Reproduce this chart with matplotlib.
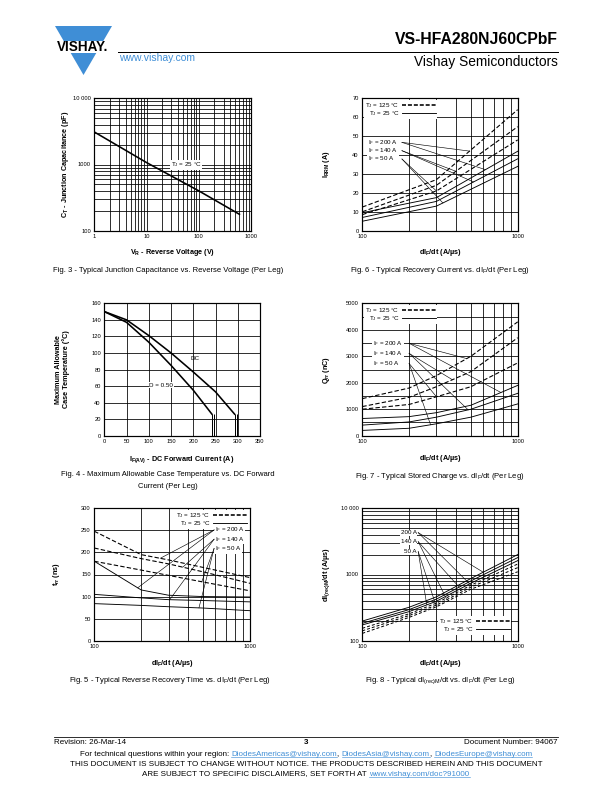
import numpy as np
import matplotlib
matplotlib.use('Agg')
import matplotlib.pyplot as plt
import matplotlib.transforms as mtransforms
from matplotlib.patches import Polygon, Rectangle
from matplotlib.lines import Line2D
from matplotlib.ticker import NullFormatter

plt.rcParams['font.family'] = ['Liberation Sans', 'DejaVu Sans']
plt.rcParams['mathtext.default'] = 'regular'

# Fig. 3 - junction capacitance
vr = [1, 10, 100, 600]
ct = [3100, 1070, 400, 177]

# Fig. 4 - case temperature vs. forward current
if_dc = [0, 50, 100, 150, 200, 250, 293]
tc_dc = [150, 140, 121, 100, 77, 53, 26]
if_d50 = [0, 50, 100, 150, 200, 242]
tc_d50 = [150, 137, 113, 85, 55, 26]
dc_edges = [293, 298]
d50_edges = [242, 247]

# Fig. 5 - trr
didt = [100, 200, 300, 500, 1000]
trr_125 = [[248, 195, 183, 166, 143],
           [210, 186, 174, 156, 130],
           [180, 160, 148, 133, 113]]
trr_25 = [[180, 115, 103, 100, 99],
          [105, 97, 93, 91, 88],
          [84, 80, 77, 74, 68]]

# Fig. 6 - Irrm
didt6 = [100, 300, 1000]
irrm_125 = [[12.5, 27, 64], [10, 24, 55], [8.5, 21, 48]]
irrm_25 = [[9.5, 17.5, 42], [7, 15.5, 38], [5, 13, 34]]

# Fig. 7 - Qrr
qrr_125 = [[1400, 1800, 2270, 3000, 4300],
           [1100, 1450, 1850, 2420, 3700],
           [1000, 1180, 1470, 1850, 2750]]
qrr_25 = [[650, 720, 870, 1150, 1900],
          [400, 520, 700, 1000, 1600],
          [200, 280, 450, 700, 1200]]

# Fig. 8 - dI(rec)M/dt
dirm_25 = [[198, 320, 460, 870, 2000],
           [183, 295, 425, 800, 1800],
           [173, 275, 395, 740, 1620]]
dirm_125 = [[154, 255, 370, 690, 1440],
            [141, 240, 345, 645, 1270],
            [129, 225, 325, 600, 1100]]

if_labels = ['200 A', '140 A', '50 A']

fig = plt.figure(figsize=(8.5, 11), dpi=72)
px = mtransforms.Affine2D().scale(1 / 612, -1 / 792).translate(0, 1) + fig.transFigure
BLUE = '#3f8ed6'
dash = (0, (4, 2))
FS = 6.2  # small text inside charts


def add_ax(box):
    x0, y0, x1, y1 = box
    ax = fig.add_axes([x0 / 612, 1 - y1 / 792, (x1 - x0) / 612, (y1 - y0) / 792])
    ax.tick_params(which='both', length=0, labelsize=5.8, pad=3.5)
    for s in ax.spines.values():
        s.set_linewidth(1.2)
    return ax


def labels(ax, box, xlabel, ylabel, xl_y, yl_x):
    x0, y0, x1, y1 = box
    ax.set_xlabel(xlabel, fontsize=7.3, fontweight='bold')
    ax.set_ylabel(ylabel, fontsize=7.3, fontweight='bold', linespacing=1.1)
    ax.xaxis.set_label_coords(0.5, -(xl_y - y1) / (y1 - y0))
    ax.yaxis.set_label_coords(-(x0 - yl_x) / (x1 - x0), 0.5)


def on_curve(xq, xs, ys, logy=False):
    lx = np.log10(xs)
    if logy:
        return 10 ** np.interp(np.log10(xq), lx, np.log10(ys))
    return np.interp(np.log10(xq), lx, ys)


def tj_legend(ax, **kw):
    h = [Line2D([], [], color='k', lw=1.6, ls=(0, (2.5, 1.2))),
         Line2D([], [], color='k', lw=0.9)]
    lg = ax.legend(h, ['T$_J$ = 125 °C', 'T$_J$ = 25 °C'], fontsize=FS,
                   markerfirst=False, handlelength=5.5, handletextpad=0.4,
                   labelspacing=-0.1, borderpad=0.15, borderaxespad=0.3,
                   fancybox=False, framealpha=1, facecolor='white',
                   edgecolor='none', **kw)
    lg.set_zorder(4)


wbox = dict(fc='white', ec='none', pad=0.6)

# ---------- Fig. 3 ----------
b3 = (94.3, 98.3, 251, 230.7)
ax = add_ax(b3)
ax.loglog(vr, ct, color='k', lw=1.6)
ax.set_xlim(1, 1000)
ax.set_ylim(100, 10000)
ax.grid(True, which='both', color='k', lw=0.8)
ax.set_xticks([1, 10, 100, 1000], ['1', '10', '100', '1000'])
ax.set_yticks([100, 1000, 10000], ['100', '1000', '10 000'])
ax.xaxis.set_minor_formatter(NullFormatter())
ax.yaxis.set_minor_formatter(NullFormatter())
ax.text(58, 990, 'T$_J$ = 25 °C', fontsize=FS, ha='center', va='center', bbox=wbox, zorder=5)
labels(ax, b3, 'V$_R$ - Reverse Voltage (V)', 'C$_T$ - Junction Capacitance (pF)', 247, 71)

# ---------- Fig. 6 ----------
b6 = (362.3, 98.3, 517.7, 230.7)
ax = add_ax(b6)
for ys in irrm_125:
    ax.plot(didt6, ys, color='k', lw=1.1, ls=dash)
for ys in irrm_25:
    ax.plot(didt6, ys, color='k', lw=0.9)
ax.set_xscale('log')
ax.set_xlim(100, 1000)
ax.set_ylim(0, 70)
ax.set_yticks(range(0, 71, 10))
ax.set_xticks([100, 1000], ['100', '1000'])
ax.xaxis.set_minor_formatter(NullFormatter())
ax.grid(True, which='both', axis='x', color='k', lw=0.8)
ax.grid(True, which='major', axis='y', color='k', lw=0.8)
tj_legend(ax, loc='upper left', bbox_to_anchor=(0.0, 1.0))
lab_y6 = [46.7, 42.3, 37.9]
tgt6 = [[(0, 490, True), (0, 620, False)],
        [(1, 400, True), (1, 520, False)],
        [(2, 300, True), (2, 330, False)]]
for i in range(3):
    ax.text(109, lab_y6[i], 'I$_F$ = ' + if_labels[i], fontsize=FS, va='center', bbox=wbox, zorder=5)
    for k, xq, hot in tgt6[i]:
        ys = irrm_125[k] if hot else irrm_25[k]
        ax.plot([180, xq], [lab_y6[i], on_curve(xq, didt6, ys)], color='k', lw=0.6, zorder=6)
labels(ax, b6, 'dI$_F$/dt (A/µs)', 'I$_{RRM}$ (A)', 247, 332)

# ---------- Fig. 4 ----------
b4 = (104.3, 303.3, 260, 435.7)
ax = add_ax(b4)
ax.plot(if_dc, tc_dc, color='k', lw=1.6)
ax.plot(if_d50, tc_d50, color='k', lw=1.6)
ax.vlines(dc_edges, 0, tc_dc[-1], color='k', lw=1.0)
ax.vlines(d50_edges, 0, tc_d50[-1], color='k', lw=1.0)
ax.set_xlim(0, 350)
ax.set_ylim(0, 160)
ax.set_xticks(range(0, 351, 50))
ax.set_yticks(range(0, 161, 20))
ax.grid(True, which='major', axis='both', color='k', lw=0.8)
ax.text(205, 93, 'DC', fontsize=FS, ha='center', va='center')
ax.text(128, 61, 'D = 0.50', fontsize=FS, ha='center', va='center', bbox=wbox, zorder=5)
labels(ax, b4, 'I$_{F(AV)}$ - DC Forward Current (A)', 'Maximum Allowable\nCase Temperature (°C)', 454, 70)

# ---------- Fig. 7 ----------
b7 = (362.3, 303.3, 517.7, 435.7)
ax = add_ax(b7)
for ys in qrr_125:
    ax.plot(didt, ys, color='k', lw=1.1, ls=dash)
for ys in qrr_25:
    ax.plot(didt, ys, color='k', lw=0.9)
ax.set_xscale('log')
ax.set_xlim(100, 1000)
ax.set_ylim(0, 5000)
ax.set_yticks(range(0, 5001, 1000))
ax.set_yticks(range(500, 5000, 1000), minor=True)
ax.set_xticks([100, 1000], ['100', '1000'])
ax.xaxis.set_minor_formatter(NullFormatter())
ax.yaxis.set_minor_formatter(NullFormatter())
ax.grid(True, which='both', color='k', lw=0.8)
tj_legend(ax, loc='upper left', bbox_to_anchor=(0.0, 1.0))
lab_y7 = [3490, 3110, 2730]
tgt7 = [[(0, 470, True), (0, 780, False)],
        [(1, 380, True), (1, 480, False)],
        [(2, 300, True), (2, 275, False)]]
for i in range(3):
    ax.text(117, lab_y7[i], 'I$_F$ = ' + if_labels[i], fontsize=FS, va='center', bbox=wbox, zorder=5)
    for k, xq, hot in tgt7[i]:
        ys = qrr_125[k] if hot else qrr_25[k]
        ax.plot([200, xq], [lab_y7[i], on_curve(xq, didt, ys)], color='k', lw=0.6, zorder=6)
labels(ax, b7, 'dI$_F$/dt (A/µs)', 'Q$_{rr}$ (nC)', 453, 332)

# ---------- Fig. 5 ----------
b5 = (94.3, 508.3, 250, 640.7)
ax = add_ax(b5)
for ys in trr_125:
    ax.plot(didt, ys, color='k', lw=1.1, ls=dash)
for ys in trr_25:
    ax.plot(didt, ys, color='k', lw=0.9)
ax.set_xscale('log')
ax.set_xlim(100, 1000)
ax.set_ylim(0, 300)
ax.set_yticks(range(0, 301, 50))
ax.set_xticks([100, 1000], ['100', '1000'])
ax.xaxis.set_minor_formatter(NullFormatter())
ax.grid(True, which='both', axis='x', color='k', lw=0.8)
ax.grid(True, which='major', axis='y', color='k', lw=0.8)
tj_legend(ax, loc='upper right', bbox_to_anchor=(1.0, 1.0))
lab_y5 = [251, 230, 209]
tgt5 = [[(0, 190, False), (0, 265, True)],
        [(1, 305, False), (1, 370, True)],
        [(2, 470, False), (2, 490, True)]]
for i in range(3):
    ax.text(592, lab_y5[i], 'I$_F$ = ' + if_labels[i], fontsize=FS, va='center', bbox=wbox, zorder=5)
    for k, xq, hot in tgt5[i]:
        ys = trr_125[k] if hot else trr_25[k]
        ax.plot([588, xq], [lab_y5[i], on_curve(xq, didt, ys)], color='k', lw=0.6, zorder=6)
labels(ax, b5, 'dI$_F$/dt (A/µs)', 't$_{rr}$ (ns)', 658, 61.5)

# ---------- Fig. 8 ----------
b8 = (362.3, 508.3, 517.7, 640.7)
ax = add_ax(b8)
for ys in dirm_125:
    ax.plot(didt, ys, color='k', lw=1.0, ls=(0, (3, 2)))
for ys in dirm_25:
    ax.plot(didt, ys, color='k', lw=0.9)
ax.set_xscale('log')
ax.set_yscale('log')
ax.set_xlim(100, 1000)
ax.set_ylim(100, 10000)
ax.set_xticks([100, 1000], ['100', '1000'])
ax.set_yticks([100, 1000, 10000], ['100', '1000', '10 000'])
ax.xaxis.set_minor_formatter(NullFormatter())
ax.yaxis.set_minor_formatter(NullFormatter())
ax.grid(True, which='both', color='k', lw=0.8)
tj_legend(ax, loc='lower right', bbox_to_anchor=(0.97, 0.03))
lab_y8 = [4285, 3133, 2213]
tgt8 = [[(0, 600, False), (0, 500, True)],
        [(1, 420, False), (1, 350, True)],
        [(2, 260, False), (2, 300, True)]]
for i in range(3):
    ax.text(224, lab_y8[i], if_labels[i], fontsize=FS, ha='right', va='center', bbox=wbox, zorder=5)
    for k, xq, hot in tgt8[i]:
        ys = dirm_125[k] if hot else dirm_25[k]
        ax.plot([229, xq], [lab_y8[i], on_curve(xq, didt, ys, logy=True)], color='k', lw=0.6, zorder=6)
labels(ax, b8, 'dI$_F$/dt (A/µs)', 'dI$_{(rec)M}$/dt (A/µs)', 658, 332)

# ---------- captions ----------
cap = dict(fontsize=7.6, ha='center', va='center', transform=px)
fig.text(168, 271, 'Fig. 3 - Typical Junction Capacitance vs. Reverse Voltage (Per Leg)', **cap)
fig.text(440, 271, 'Fig. 6 - Typical Recovery Current vs. dI$_F$/dt (Per Leg)', **cap)
fig.text(168, 475, 'Fig. 4 - Maximum Allowable Case Temperature vs. DC Forward', **cap)
fig.text(168, 486, 'Current (Per Leg)', **cap)
fig.text(440, 476, 'Fig. 7 - Typical Stored Charge vs. dI$_F$/dt (Per Leg)', **cap)
fig.text(170, 681, 'Fig. 5 - Typical Reverse Recovery Time vs. dI$_F$/dt (Per Leg)', **cap)
fig.text(440, 681, 'Fig. 8 - Typical dI$_{(rec)M}$/dt vs. dI$_F$/dt (Per Leg)', **cap)

# ---------- header ----------
fig.add_artist(Polygon([(55, 26), (112, 26), (83.5, 75)], closed=True, fc=BLUE, ec='none', transform=px))
fig.add_artist(Rectangle((48, 40.5), 70, 12, fc='white', ec='none', transform=px))
fig.text(82.5, 47, 'VISHAY.', fontsize=13.5, fontweight='bold', ha='center', va='center', transform=px)
fig.add_artist(Line2D([118, 558], [52, 52], color='k', lw=1.0, transform=px))
fig.text(558, 40, 'VS-HFA280NJ60CPbF', fontsize=15.8, fontweight='bold', ha='right', va='center', transform=px)
fig.text(558, 62, 'Vishay Semiconductors', fontsize=13.8, ha='right', va='center', transform=px)
fig.text(119, 58, 'www.vishay.com', fontsize=10.4, color=BLUE, ha='left', va='center', transform=px)

# ---------- footer ----------
fig.add_artist(Line2D([54, 558], [737, 737], color='k', lw=0.8, transform=px))
fig.text(54, 743, 'Revision: 26-Mar-14', fontsize=8, ha='left', va='center', transform=px)
fig.text(306, 743, '3', fontsize=8, fontweight='bold', ha='center', va='center', transform=px)
fig.text(558, 743, 'Document Number: 94067', fontsize=8, ha='right', va='center', transform=px)

renderer = fig.canvas.get_renderer()


def text_run(parts, xc, y, size):
    objs = []
    for s, c, u in parts:
        t = fig.text(0, y, s, fontsize=size, color=c, ha='left', va='baseline', transform=px)
        objs.append((t, t.get_window_extent(renderer).width, c, u))
    x = xc - sum(o[1] for o in objs) / 2
    for t, w, c, u in objs:
        t.set_x(x)
        if u:
            fig.add_artist(Line2D([x, x + w], [y + 1.3, y + 1.3], color=c, lw=0.6, transform=px))
        x += w


text_run([('For technical questions within your region: ', 'k', False),
          ('DiodesAmericas@vishay.com', BLUE, True), (', ', 'k', False),
          ('DiodesAsia@vishay.com', BLUE, True), (', ', 'k', False),
          ('DiodesEurope@vishay.com', BLUE, True)], 306, 756, 8)
fig.text(306, 764.5, 'THIS DOCUMENT IS SUBJECT TO CHANGE WITHOUT NOTICE. THE PRODUCTS DESCRIBED HEREIN AND THIS DOCUMENT',
         fontsize=8, ha='center', va='center', transform=px)
text_run([('ARE SUBJECT TO SPECIFIC DISCLAIMERS, SET FORTH AT ', 'k', False),
          ('www.vishay.com/doc?91000', BLUE, True)], 306, 775.5, 8)

fig.savefig('out.png', dpi=72)
